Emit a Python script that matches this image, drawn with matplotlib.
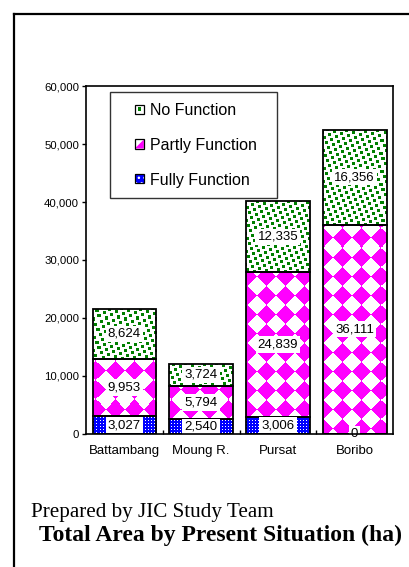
import matplotlib
matplotlib.use("Agg")
import matplotlib.pyplot as plt
import numpy as np
from matplotlib.lines import Line2D
from matplotlib.patches import Patch, Rectangle, Polygon
from matplotlib.legend_handler import HandlerBase
from matplotlib.ticker import FuncFormatter

# data (ha)
CATEGORIES = ["Battambang", "Moung R.", "Pursat", "Boribo"]
FULLY = [3027, 2540, 3006, 0]
PARTLY = [9953, 5794, 24839, 36111]
NO_FUNC = [8624, 3724, 12335, 16356]
SERIES_NAMES = ["Fully Function", "Partly Function", "No Function"]
Y_TICKS = [0, 10000, 20000, 30000, 40000, 50000, 60000]

PATTERNS = ["dots", "diamond", "confetti"]
BLUE = (0.0, 0.0, 1.0)
MAGENTA = (1.0, 0.0, 1.0)
GREEN = (0.0, 0.5, 0.0)

plt.rcParams["font.family"] = ["Liberation Sans", "DejaVu Sans"]


def make_pattern(kind, h, w):
    """Pixel texture imitating the Excel fill patterns of the original."""
    i, j = np.mgrid[0:h, 0:w]
    img = np.ones((h, w, 3))
    if kind == "diamond":
        p = 19
        m = ((np.floor((i + j) / p) + np.floor((j - i) / p)) % 2) == 0
        img[m] = MAGENTA
    elif kind == "confetti":
        # 3x3 squares on a slanted lattice, so no straight white rows appear
        n = max(h, w) // 2 + 10
        for a in range(-n, n):
            for b in range(-n // 2, n // 2):
                cx, cy = 7 * a + 2 * b, 2 * a + 5 * b
                if -3 < cx < w and -3 < cy < h:
                    img[max(cy, 0):cy + 3, max(cx, 0):cx + 3] = GREEN
    else:
        img[:] = BLUE
        m = (i % 3 == 1) & (j % 3 == 1)
        img[m] = (1, 1, 1)
    return img


fig = plt.figure(figsize=(4.1, 5.67), dpi=100)
ax = fig.add_axes([0.2098, 0.2346, 0.7488, 0.6137])
bb = ax.get_window_extent()
H, W = int(round(bb.height)), int(round(bb.width))

x = np.arange(len(CATEGORIES))
width = 0.83
series = [np.array(FULLY), np.array(PARTLY), np.array(NO_FUNC)]
bottom = np.zeros(len(CATEGORIES))
for vals, name, kind in zip(series, SERIES_NAMES, PATTERNS):
    bars = ax.bar(x, vals, width, bottom=bottom, facecolor="none",
                  edgecolor="black", linewidth=1.3, zorder=3, label=name)
    tex = make_pattern(kind, H, W)
    for b in bars:
        im = ax.imshow(tex, extent=(0, 1, 0, 1), transform=ax.transAxes,
                       aspect="auto", interpolation="nearest", zorder=2)
        im.set_clip_path(b)
    for xi, v, b0 in zip(x, vals, bottom):
        ax.text(xi, b0 + v / 2, f"{v:,}", ha="center", va="center",
                fontsize=9.5, zorder=5,
                bbox=dict(facecolor="white", edgecolor="none", pad=1.5))
    bottom = bottom + vals

ax.set_xlim(-0.5, len(CATEGORIES) - 0.5)
ax.set_ylim(0, 60000)
ax.set_yticks(Y_TICKS)
ax.yaxis.set_major_formatter(FuncFormatter(lambda v, p: f"{int(v):,}"))
ax.tick_params(axis="y", direction="out", length=3, width=1, labelsize=8.2, pad=2)
ax.set_xticks(x)
ax.set_xticklabels(CATEGORIES)
ax.tick_params(axis="x", length=0, labelsize=9.5, pad=8)
ax.set_xticks(x[:-1] + 0.5, minor=True)
ax.tick_params(axis="x", which="minor", direction="in", length=3, width=1)
for s in ax.spines.values():
    s.set_linewidth(1.2)
    s.set_zorder(6)


class SquareHandler(HandlerBase):
    # small square key at the right end of the handle box
    def create_artists(self, legend, orig_handle, xdescent, ydescent,
                       width, height, fontsize, trans):
        s = 6.5
        x0 = -xdescent + width - s
        y0 = -ydescent + (height - s) / 2
        kind = orig_handle.get_gid()
        arts = []
        if kind == "dots":
            arts.append(Rectangle((x0, y0), s, s, facecolor=BLUE,
                                  edgecolor="white", hatch="...", linewidth=0))
        elif kind == "diamond":
            arts.append(Polygon([(x0 + s, y0), (x0 + s, y0 + s), (x0, y0)],
                                closed=True, facecolor=MAGENTA, linewidth=0))
        else:
            arts.append(Rectangle((x0 + s * 0.3, y0 + s * 0.3), s * 0.4, s * 0.4,
                                  facecolor=GREEN, linewidth=0))
        arts.append(Rectangle((x0, y0), s, s, fill=False, edgecolor="black",
                              linewidth=0.9))
        for a in arts:
            a.set_transform(trans)
        return arts


handles = [Patch(gid=k, label=n) for k, n in zip(PATTERNS, SERIES_NAMES)]
leg = ax.legend(handles[::-1], SERIES_NAMES[::-1], loc="upper left",
                bbox_to_anchor=(0.078, 0.681, 0.544, 0.302), mode="expand",
                fontsize=11.5, frameon=True, fancybox=False, borderaxespad=0,
                borderpad=0.67, labelspacing=1.25, handlelength=1.45,
                handleheight=0.7, handletextpad=0.37,
                handler_map={Patch: SquareHandler()})
leg.get_frame().set_edgecolor("black")
leg.get_frame().set_linewidth(1.0)
leg.set_zorder(7)

# outer frame of the page figure
fig.add_artist(Line2D([14.5 / 410, 14.5 / 410], [1 - 13.5 / 567, 0],
                      color="black", linewidth=1.6, transform=fig.transFigure))
fig.add_artist(Line2D([14.5 / 410, 1], [1 - 13.5 / 567, 1 - 13.5 / 567],
                      color="black", linewidth=1.6, transform=fig.transFigure))

fig.text(31 / 410, 1 - 513 / 567, "Prepared by JIC Study Team",
         family=["Liberation Serif", "DejaVu Serif"], fontsize=15.2, va="center")
fig.text(39 / 410, 1 - 535 / 567, "Total Area by Present Situation (ha)",
         family=["Liberation Serif", "DejaVu Serif"], fontsize=17.0,
         fontweight="bold", va="center")

fig.savefig("out.png", dpi=100)
